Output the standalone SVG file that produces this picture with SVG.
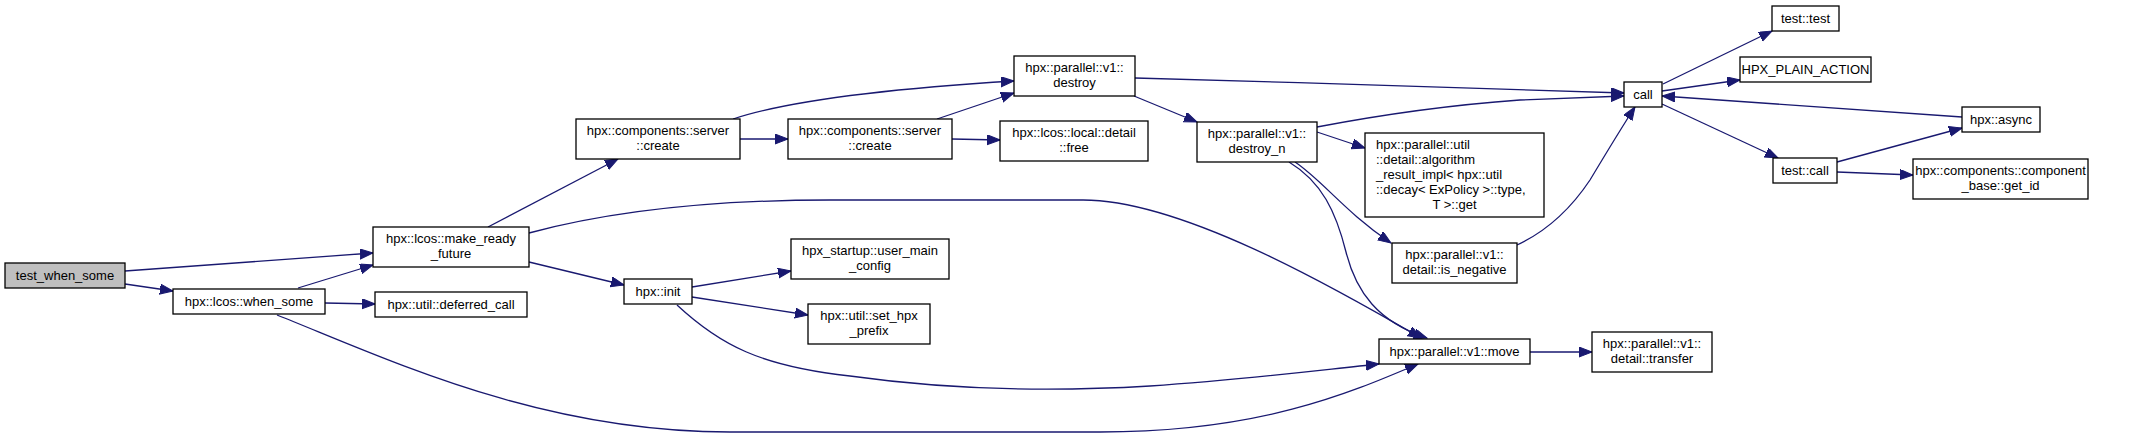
<svg xmlns="http://www.w3.org/2000/svg" width="2153" height="439" viewBox="0 0 2153 439">
<style>
.n rect{fill:#ffffff;stroke:#000000;stroke-width:1.3}
.n.root rect{fill:#bfbfbf}
.n text{font-family:"Liberation Sans",Arial,sans-serif;font-size:13px;fill:#000000;text-anchor:middle}
.n text.l{text-anchor:start}
.e path{fill:none;stroke:#191970;stroke-width:1.3;marker-end:url(#ah)}
</style>
<defs>
<marker id="ah" markerUnits="userSpaceOnUse" markerWidth="14" markerHeight="11" refX="13" refY="5" orient="auto">
<path d="M0,0 L13,5 L0,10 z" fill="#191970" stroke="#191970" stroke-width="1"/>
</marker>
</defs>
<rect width="2153" height="439" fill="#ffffff"/>
<g id="edges" class="e">
<path d="M125,271 L373,253"/>
<path d="M125,284 L173,291"/>
<path d="M298,288 L373,265"/>
<path d="M325,303 L375,304"/>
<path d="M277,315 C390,360 540,432 730,432 L1100,432 C1260,432 1350,393 1418,364"/>
<path d="M488,227 L618,159"/>
<path d="M529,262 L624,285"/>
<path d="M529,233 C600,214 700,200 830,200 L1083,200 C1180,200 1330,285 1421,338"/>
<path d="M677,305 C720,345 760,366 850,376 C950,390 1050,392 1150,386 C1250,379 1320,370 1379,364"/>
<path d="M692,287 L791,271"/>
<path d="M692,297 L808,315"/>
<path d="M733,119 C790,100 900,88 1014,81"/>
<path d="M740,139 L788,139"/>
<path d="M937,119 L1014,93"/>
<path d="M952,139 L1000,140"/>
<path d="M1134,96 L1197,122"/>
<path d="M1135,78 C1300,82 1500,90 1624,93"/>
<path d="M1317,127 C1380,115 1450,105 1520,100 L1624,96"/>
<path d="M1317,132 L1365,148"/>
<path d="M1295,162 C1322,180 1345,212 1391,243"/>
<path d="M1289,162 C1322,182 1336,212 1346,252 C1356,292 1378,322 1427,338"/>
<path d="M1517,245 C1545,232 1570,210 1590,180 C1605,155 1620,130 1635,107"/>
<path d="M1530,352 L1592,352"/>
<path d="M1663,84 L1772,31"/>
<path d="M1662,91 L1740,80"/>
<path d="M1962,117 L1662,96"/>
<path d="M1662,104 L1778,158"/>
<path d="M1837,162 L1962,128"/>
<path d="M1837,172 L1913,175"/>
</g>
<g id="test_when_some" class="n root"><rect x="5" y="263" width="120" height="25"/><text x="65" y="279.5">test_when_some</text></g>
<g id="when_some" class="n"><rect x="173" y="289" width="152" height="25"/><text x="249" y="305.5">hpx::lcos::when_some</text></g>
<g id="make_ready_future" class="n"><rect x="373" y="227" width="156" height="40"/><text x="451" y="243">hpx::lcos::make_ready</text><text x="451" y="258">_future</text></g>
<g id="deferred_call" class="n"><rect x="375" y="292" width="152" height="25"/><text x="451" y="308.5">hpx::util::deferred_call</text></g>
<g id="create1" class="n"><rect x="576" y="119" width="164" height="40"/><text x="658" y="135">hpx::components::server</text><text x="658" y="150">::create</text></g>
<g id="create2" class="n"><rect x="788" y="119" width="164" height="40"/><text x="870" y="135">hpx::components::server</text><text x="870" y="150">::create</text></g>
<g id="init" class="n"><rect x="624" y="279" width="68" height="25"/><text x="658" y="295.5">hpx::init</text></g>
<g id="user_main_config" class="n"><rect x="791" y="239" width="158" height="40"/><text x="870" y="255">hpx_startup::user_main</text><text x="870" y="270">_config</text></g>
<g id="set_hpx_prefix" class="n"><rect x="808" y="304" width="122" height="40"/><text x="869" y="320">hpx::util::set_hpx</text><text x="869" y="335">_prefix</text></g>
<g id="destroy" class="n"><rect x="1014" y="56" width="121" height="40"/><text x="1074.5" y="72">hpx::parallel::v1::</text><text x="1074.5" y="87">destroy</text></g>
<g id="free" class="n"><rect x="1000" y="121" width="148" height="40"/><text x="1074" y="137">hpx::lcos::local::detail</text><text x="1074" y="152">::free</text></g>
<g id="destroy_n" class="n"><rect x="1197" y="122" width="120" height="40"/><text x="1257" y="138">hpx::parallel::v1::</text><text x="1257" y="153">destroy_n</text></g>
<g id="algorithm_result_impl" class="n"><rect x="1365" y="133" width="179" height="84"/><text class="l" x="1376" y="148.5">hpx::parallel::util</text><text class="l" x="1376" y="163.5">::detail::algorithm</text><text class="l" x="1376" y="178.5">_result_impl&lt; hpx::util</text><text class="l" x="1376" y="193.5">::decay&lt; ExPolicy &gt;::type,</text><text x="1454.5" y="208.5">T &gt;::get</text></g>
<g id="is_negative" class="n"><rect x="1392" y="243" width="125" height="40"/><text x="1454.5" y="259">hpx::parallel::v1::</text><text x="1454.5" y="274">detail::is_negative</text></g>
<g id="move" class="n"><rect x="1379" y="339" width="151" height="25"/><text x="1454.5" y="355.5">hpx::parallel::v1::move</text></g>
<g id="transfer" class="n"><rect x="1592" y="332" width="120" height="40"/><text x="1652" y="348">hpx::parallel::v1::</text><text x="1652" y="363">detail::transfer</text></g>
<g id="call" class="n"><rect x="1624" y="82" width="38" height="25"/><text x="1643" y="98.5">call</text></g>
<g id="test_test" class="n"><rect x="1772" y="6" width="67" height="25"/><text x="1805.5" y="22.5">test::test</text></g>
<g id="hpx_plain_action" class="n"><rect x="1740" y="57" width="131" height="25"/><text x="1805.5" y="73.5">HPX_PLAIN_ACTION</text></g>
<g id="async" class="n"><rect x="1962" y="107" width="78" height="25"/><text x="2001" y="123.5">hpx::async</text></g>
<g id="test_call" class="n"><rect x="1773" y="158" width="64" height="25"/><text x="1805" y="174.5">test::call</text></g>
<g id="get_id" class="n"><rect x="1913" y="159" width="175" height="40"/><text x="2000.5" y="175">hpx::components::component</text><text x="2000.5" y="190">_base::get_id</text></g>
</svg>
